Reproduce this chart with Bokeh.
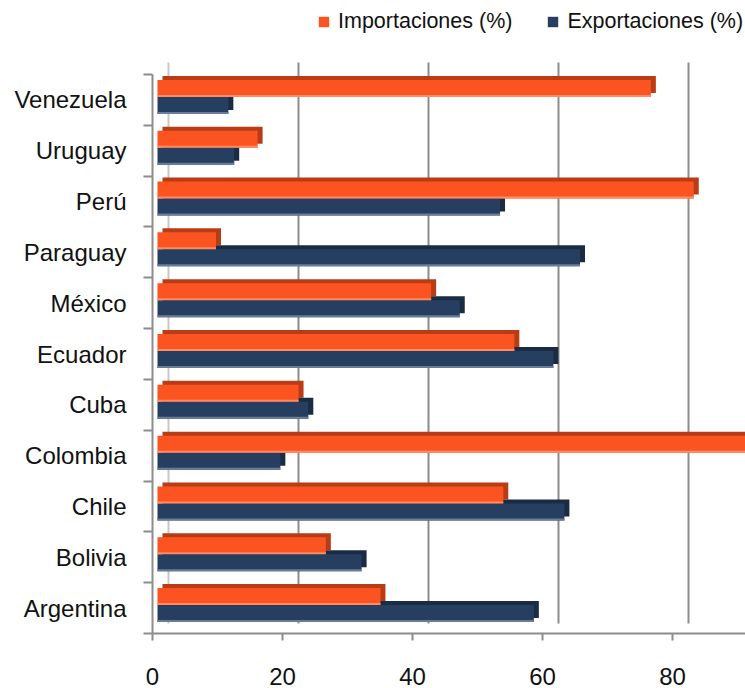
from bokeh.plotting import figure
from bokeh.models import Range1d, FixedTicker, Legend, LegendItem, Grid
from bokeh.embed import file_html
from bokeh.resources import INLINE

countries = ["Argentina", "Bolivia", "Chile", "Colombia", "Cuba", "Ecuador",
             "México", "Paraguay", "Perú", "Uruguay", "Venezuela"]
importaciones = [34.3, 25.9, 53.2, 95, 21.7, 54.9, 42.1, 9.0, 82.5, 15.4, 75.9]
exportaciones = [57.9, 31.4, 62.6, 18.9, 23.2, 60.9, 46.5, 65.0, 52.7, 11.8, 10.9]
x_ticks = [0, 20, 40, 60, 80]

FONT = "Liberation Sans"
ORANGE, ORANGE_D, ORANGE_L = "#FC5420", "#B83C16", "#FF8A66"
NAVY, NAVY_D, NAVY_L = "#263F60", "#1A2C44", "#6A7D98"
GRID = "#8C8C8C"

W, H = 745, 688
LEFT = 152
BOTTOM = 55
DATA_TOP = 74                      # px from figure top where category area starts
frame_w = W - LEFT
frame_h = H - BOTTOM
n = len(countries)
cat_px = (frame_h - DATA_TOP) / n
ppu = 6.5                           # px per x unit
xmax = frame_w / ppu

ypos = list(range(n))
bounds = [i - 0.5 for i in range(n + 1)]
ytop = n - 0.5 + DATA_TOP / cat_px

p = figure(width=W, height=H, output_backend="svg", toolbar_location=None,
           x_range=Range1d(0, xmax), y_range=Range1d(-0.5, ytop),
           min_border_left=LEFT, min_border_right=0, min_border_bottom=BOTTOM,
           min_border_top=0, outline_line_color=None)
p.extra_x_ranges = {
    "bars": Range1d(-5 / ppu, xmax - 5 / ppu),
    "wall": Range1d(-16 / ppu, xmax - 16 / ppu),
}

# back-wall grid lines (3D offset)
p.xgrid.grid_line_color = None
p.ygrid.grid_line_color = None
wall_lo = -0.5 + 10 / cat_px
wall_hi = n - 0.5 + 12 / cat_px
g0 = Grid(dimension=0, ticker=FixedTicker(ticks=[0]), x_range_name="wall",
          grid_line_color="#C8C8C8", grid_line_width=2, cross_bounds=(wall_lo, wall_hi))
g1 = Grid(dimension=0, ticker=FixedTicker(ticks=[20, 40, 60, 80]), x_range_name="wall",
          grid_line_color=GRID, grid_line_width=2, cross_bounds=(wall_lo, wall_hi))
p.add_layout(g0, "center")
p.add_layout(g1, "center")

bh = 17 / cat_px
off = bh / 2
lift = 3 / cat_px
dx = 5 / ppu
dy = 4 / cat_px
strip = 2 / cat_px
imp_y = [y + lift + off for y in ypos]
exp_y = [y + lift - off for y in ypos]

# depth (3D) layers
p.hbar(y=[y + dy for y in imp_y], left=dx, right=[v + dx for v in importaciones],
       height=bh, color=ORANGE_D, line_color=None, x_range_name="bars")
p.hbar(y=[y + dy for y in exp_y], left=dx, right=[v + dx for v in exportaciones],
       height=bh, color=NAVY_D, line_color=None, x_range_name="bars")
# front faces
r_imp = p.hbar(y=imp_y, left=0, right=importaciones, height=bh, color=ORANGE,
               line_color=None, x_range_name="bars")
r_exp = p.hbar(y=exp_y, left=0, right=exportaciones, height=bh, color=NAVY,
               line_color=None, x_range_name="bars")
# light bottom edges
p.hbar(y=[y - bh / 2 + strip / 2 for y in imp_y], left=0, right=importaciones, height=strip,
       color=ORANGE_L, line_color=None, x_range_name="bars")
p.hbar(y=[y - bh / 2 + strip / 2 for y in exp_y], left=0, right=exportaciones, height=strip,
       color=NAVY_L, line_color=None, x_range_name="bars")

# axes
p.xaxis.ticker = FixedTicker(ticks=x_ticks)
p.xaxis.major_label_text_font = FONT
p.xaxis.major_label_text_font_size = "24px"
p.xaxis.major_label_text_color = "#111111"
p.xaxis.major_label_standoff = 27
p.xaxis.axis_line_color = GRID
p.xaxis.axis_line_width = 2
p.xaxis.major_tick_line_color = GRID
p.xaxis.major_tick_line_width = 2
p.xaxis.major_tick_out = 7
p.xaxis.major_tick_in = 0
p.xaxis.minor_tick_line_color = None

p.yaxis.ticker = FixedTicker(ticks=ypos, minor_ticks=bounds)
p.yaxis.bounds = (-0.5, n - 0.5)
p.yaxis.major_label_overrides = {i: c for i, c in enumerate(countries)}
p.yaxis.major_label_text_font = FONT
p.yaxis.major_label_text_font_size = "24px"
p.yaxis.major_label_text_color = "#111111"
p.yaxis.major_label_standoff = 17
p.yaxis.major_tick_line_color = None
p.yaxis.minor_tick_line_color = GRID
p.yaxis.minor_tick_line_width = 2
p.yaxis.minor_tick_out = 9
p.yaxis.minor_tick_in = 0
p.yaxis.axis_line_color = GRID
p.yaxis.axis_line_width = 2

legend = Legend(items=[LegendItem(label="Importaciones (%)", renderers=[r_imp]),
                       LegendItem(label="Exportaciones (%)", renderers=[r_exp])],
                orientation="horizontal", location=(165, 599),
                label_text_font=FONT, label_text_font_size="21.5px",
                label_text_color="#111111",
                glyph_width=13, glyph_height=13, spacing=34,
                border_line_color=None, background_fill_alpha=0,
                margin=0, padding=2, label_standoff=8)
p.add_layout(legend, "center")

open("out.html", "w").write(file_html(p, INLINE))
